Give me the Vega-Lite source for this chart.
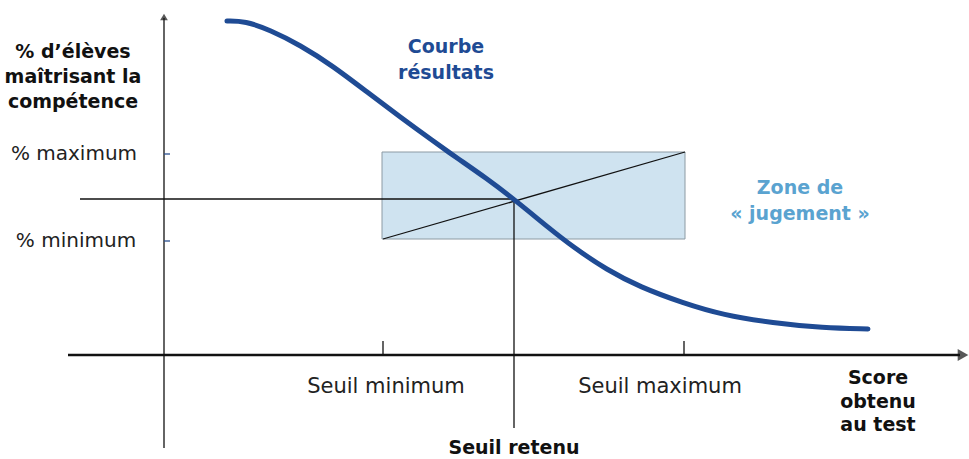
{
  "$schema": "https://vega.github.io/schema/vega-lite/v6.json",
  "width": 969,
  "height": 459,
  "autosize": {"type": "fit", "contains": "padding"},
  "padding": 0,
  "background": "white",
  "config": {"view": {"stroke": null}},
  "encoding": {
    "x": {"type": "quantitative", "scale": {"domain": [0, 969], "nice": false, "zero": false}, "axis": null},
    "y": {"type": "quantitative", "scale": {"domain": [0, 459], "nice": false, "zero": false, "reverse": true}, "axis": null}
  },
  "layer": [
    {
      "data": {"values": [{"x1": 382, "x2": 685, "y1": 152, "y2": 239}]},
      "mark": {"type": "rect", "fill": "#cfe3f0", "stroke": "#8c9aa3", "strokeWidth": 1},
      "encoding": {"x": {"field": "x1", "type": "quantitative"}, "x2": {"field": "x2"}, "y": {"field": "y1", "type": "quantitative"}, "y2": {"field": "y2"}}
    },
    {
      "data": {"values": [
        {"x": 164, "x2": 164, "y": 18, "y2": 448},
        {"x": 80, "x2": 515, "y": 199, "y2": 199},
        {"x": 514, "x2": 514, "y": 199, "y2": 428},
        {"x": 383, "x2": 685, "y": 239, "y2": 152},
        {"x": 383, "x2": 383, "y": 341, "y2": 355},
        {"x": 684, "x2": 684, "y": 341, "y2": 355}
      ]},
      "mark": {"type": "rule", "color": "#111111", "strokeWidth": 1.3},
      "encoding": {"x": {"field": "x", "type": "quantitative"}, "x2": {"field": "x2"}, "y": {"field": "y", "type": "quantitative"}, "y2": {"field": "y2"}}
    },
    {
      "data": {"values": [{"x": 68, "x2": 960, "y": 355, "y2": 355}]},
      "mark": {"type": "rule", "color": "#111111", "strokeWidth": 2.6},
      "encoding": {"x": {"field": "x", "type": "quantitative"}, "x2": {"field": "x2"}, "y": {"field": "y", "type": "quantitative"}, "y2": {"field": "y2"}}
    },
    {
      "data": {"values": [
        {"x": 164, "x2": 170, "y": 154, "y2": 154},
        {"x": 164, "x2": 170, "y": 241, "y2": 241}
      ]},
      "mark": {"type": "rule", "color": "#2a4f8f", "strokeWidth": 1.3},
      "encoding": {"x": {"field": "x", "type": "quantitative"}, "x2": {"field": "x2"}, "y": {"field": "y", "type": "quantitative"}, "y2": {"field": "y2"}}
    },
    {
      "data": {"values": [
        {"x": 227, "y": 21}, {"x": 245, "y": 21}, {"x": 270, "y": 30}, {"x": 300, "y": 45},
        {"x": 333, "y": 66}, {"x": 367, "y": 92}, {"x": 400, "y": 117}, {"x": 433, "y": 141},
        {"x": 457, "y": 158}, {"x": 486, "y": 178}, {"x": 515, "y": 200}, {"x": 550, "y": 229},
        {"x": 573, "y": 247}, {"x": 607, "y": 270}, {"x": 640, "y": 287}, {"x": 683, "y": 303},
        {"x": 723, "y": 315}, {"x": 773, "y": 323}, {"x": 823, "y": 328}, {"x": 868, "y": 329}
      ]},
      "mark": {"type": "line", "color": "#1f4b94", "strokeWidth": 5, "interpolate": "basis", "strokeCap": "round"},
      "encoding": {"x": {"field": "x", "type": "quantitative"}, "y": {"field": "y", "type": "quantitative"}, "order": {"field": "x", "type": "quantitative"}}
    },
    {
      "data": {"values": [{"x": 164, "y": 17, "dir": "up"}]},
      "mark": {"type": "point", "shape": "triangle-up", "filled": true, "color": "#111111", "size": 60},
      "encoding": {"x": {"field": "x", "type": "quantitative"}, "y": {"field": "y", "type": "quantitative"}}
    },
    {
      "data": {"values": [{"x": 963, "y": 355, "dir": "right"}]},
      "mark": {"type": "point", "shape": "triangle-right", "filled": true, "color": "#111111", "size": 150},
      "encoding": {"x": {"field": "x", "type": "quantitative"}, "y": {"field": "y", "type": "quantitative"}}
    },
    {
      "data": {"values": [
        {"x": 73, "y": 52, "t": "% d’élèves"},
        {"x": 73, "y": 77, "t": "maîtrisant la"},
        {"x": 73, "y": 102, "t": "compétence"},
        {"x": 514, "y": 448, "t": "Seuil retenu"},
        {"x": 878, "y": 378, "t": "Score"},
        {"x": 878, "y": 402, "t": "obtenu"},
        {"x": 878, "y": 425, "t": "au test"}
      ]},
      "mark": {"type": "text", "font": "DejaVu Sans", "fontSize": 19, "fontWeight": "bold", "color": "#111111", "align": "center", "baseline": "middle"},
      "encoding": {"x": {"field": "x", "type": "quantitative"}, "y": {"field": "y", "type": "quantitative"}, "text": {"field": "t"}}
    },
    {
      "data": {"values": [
        {"x": 74, "y": 154, "t": "% maximum"},
        {"x": 76, "y": 241, "t": "% minimum"}
      ]},
      "mark": {"type": "text", "font": "DejaVu Sans", "fontSize": 20, "color": "#222222", "align": "center", "baseline": "middle"},
      "encoding": {"x": {"field": "x", "type": "quantitative"}, "y": {"field": "y", "type": "quantitative"}, "text": {"field": "t"}}
    },
    {
      "data": {"values": [
        {"x": 386, "y": 387, "t": "Seuil minimum"},
        {"x": 660, "y": 387, "t": "Seuil maximum"}
      ]},
      "mark": {"type": "text", "font": "DejaVu Sans", "fontSize": 21, "color": "#222222", "align": "center", "baseline": "middle"},
      "encoding": {"x": {"field": "x", "type": "quantitative"}, "y": {"field": "y", "type": "quantitative"}, "text": {"field": "t"}}
    },
    {
      "data": {"values": [
        {"x": 446, "y": 47, "t": "Courbe"},
        {"x": 446, "y": 73, "t": "résultats"}
      ]},
      "mark": {"type": "text", "font": "DejaVu Sans", "fontSize": 19, "fontWeight": "bold", "color": "#1f4b94", "align": "center", "baseline": "middle"},
      "encoding": {"x": {"field": "x", "type": "quantitative"}, "y": {"field": "y", "type": "quantitative"}, "text": {"field": "t"}}
    },
    {
      "data": {"values": [
        {"x": 800, "y": 188, "t": "Zone de"},
        {"x": 800, "y": 214, "t": "« jugement »"}
      ]},
      "mark": {"type": "text", "font": "DejaVu Sans", "fontSize": 19, "fontWeight": "bold", "color": "#5aa3d0", "align": "center", "baseline": "middle"},
      "encoding": {"x": {"field": "x", "type": "quantitative"}, "y": {"field": "y", "type": "quantitative"}, "text": {"field": "t"}}
    }
  ]
}
